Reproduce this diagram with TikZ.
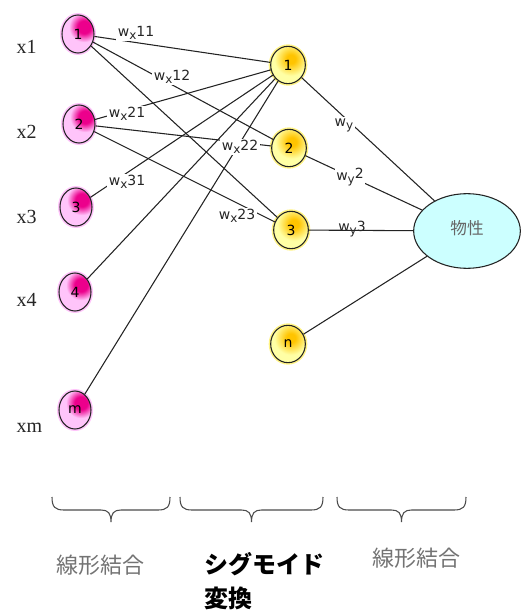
\documentclass[tikz,border=0pt]{standalone}
\usepackage{fontspec}
\setmainfont{Liberation Serif}
\newfontfamily\labelfont{DejaVu Sans}
\newfontfamily\cjk{Noto Sans CJK JP}
\usetikzlibrary{shapes.geometric}

\definecolor{pinkL}{RGB}{255,196,250}
\definecolor{pinkD}{RGB}{236,0,140}
\definecolor{yelL}{RGB}{255,255,165}
\definecolor{yelD}{RGB}{255,196,0}
\definecolor{propC}{RGB}{204,255,255}
\definecolor{lineC}{RGB}{35,35,35}

\pgfdeclareradialshading{pinkspot}{\pgfpoint{0bp}{0bp}}{color(0bp)=(pinkD); color(6bp)=(pinkD); color(14bp)=(pinkL); color(50bp)=(pinkL)}
\pgfdeclareradialshading{yelspot}{\pgfpoint{0bp}{0bp}}{color(0bp)=(yelD); color(4bp)=(yelD); color(15bp)=(yelL); color(50bp)=(yelL)}

% weight labels
\newcommand\wsub[2]{w\raisebox{-0.4ex}{\fontsize{9}{9}\selectfont #1}#2}

\begin{document}
\begin{tikzpicture}[
    x=0.75pt, y=-0.75pt,
    unit/.style={ellipse, draw=lineC, line width=0.8pt, inner sep=0pt,
                 font=\labelfont\fontsize{10.5}{10.5}\selectfont},
    pnode/.style={unit, minimum width=24pt, minimum height=28.5pt, fill=pinkL,
                  preaction={draw=pinkL, line width=3pt},
                  path picture={\shade[shading=pinkspot] ([shift={(6,-7)}]path picture bounding box.center) circle (27);}},
    ynode/.style={unit, minimum width=26pt, minimum height=28pt, fill=yelL,
                  preaction={draw=yelL!80!yelD, line width=3pt},
                  path picture={\shade[shading=yelspot] ([shift={(3,-6)}]path picture bounding box.center) circle (28);}},
    prop/.style={ellipse, draw=lineC, line width=0.8pt, fill=propC, minimum width=80pt, minimum height=56pt,
                 text=black!60, font=\cjk\fontsize{12.5}{13}\selectfont},
    conn/.style={draw=lineC, line width=0.8pt},
    wlab/.style={fill=white, inner sep=1.2pt, text=black!85, font=\labelfont\fontsize{10.5}{11}\selectfont},
    xlab/.style={anchor=west, text=black!85, font=\fontsize{15}{16}\selectfont},
    brc/.style={draw=black!70, line width=0.8pt},
    grp/.style={text=black!55, font=\cjk\fontsize{16.5}{18}\selectfont},
]
\useasboundingbox (0,0) rectangle (522,610);

% --- input units ------------------------------------------------------
\node[pnode] (p1) at (78, 34)  {1};
\node[pnode] (p2) at (79,124)  {2};
\node[pnode] (p3) at (76,207)  {3};
\node[pnode] (p4) at (75,292)  {4};
\node[pnode] (pm) at (75,410)  {m};

\node[xlab] (x1) at (12, 47)  {x1};
\node[xlab] (x2) at (12,132)  {x2};
\node[xlab] (x3) at (12,217)  {x3};
\node[xlab] (x4) at (12,300)  {x4};
\node[xlab] (xm) at (12,428)  {xm};

% --- hidden (sigmoid) units ----------------------------------------------
\node[ynode] (h1) at (288, 65)  {1};
\node[ynode] (h2) at (289,148)  {2};
\node[ynode] (h3) at (291,230)  {3};
\node[ynode] (hn) at (288,344)  {n};

% --- output --------------------------------------------------------------
\node[prop] (out) at (467,231) {\raisebox{5pt}{物性}};

% --- input -> hidden -----------------------------------------------------
\draw[conn] (p1) -- (h1);
\draw[conn] (p1) -- (h2);
\draw[conn] (p1) -- (h3);
\draw[conn] (p2) -- (h1);
\draw[conn] (p2) -- (h2);
\draw[conn] (p2) -- (h3);
\draw[conn] (p3) -- (h1);
\draw[conn] (p4) -- (h1);
\draw[conn] (pm) -- (h1);

% --- hidden -> output ----------------------------------------------------
\draw[conn] (h1) -- (out);
\draw[conn] (h2) -- (out);
\draw[conn] (h3) -- (out);
\draw[conn] (hn) -- (out);

% --- weights (white boxes cut the lines) ---------------------------------
\node[wlab] (w11) at (136, 33) {\wsub{x}{11}};
\node[wlab] (w12) at (172, 77) {\wsub{x}{12}};
\node[wlab] (w21) at (127,114) {\wsub{x}{21}};
\node[wlab] (w22) at (240,147) {\wsub{x}{22}};
\node[wlab] (w23) at (237,216) {\wsub{x}{23}};
\node[wlab] (w31) at (127,182) {\wsub{x}{31}};
\node[wlab] (wy1) at (344,125) {\wsub{y}{}};
\node[wlab] (wy2) at (350,177) {\wsub{y}{\raisebox{0.3ex}{2}}};
\node[wlab, fill=none] (wy3) at (352,229) {\wsub{y}{3}};

% --- braces --------------------------------------------------------------
\foreach \l/\r in {52/170, 180/323, 337/466} {
  \pgfmathsetmacro\m{(\l+\r)/2}
  \draw[brc] (\l,497) .. controls (\l,507) and (\l+3,510) .. (\l+12,510) -- (\m-10,510)
     .. controls (\m-3,510) and (\m,513) .. (\m,522)
     .. controls (\m,513) and (\m+3,510) .. (\m+10,510) -- (\r-12,510)
     .. controls (\r-3,510) and (\r,507) .. (\r,497);
}

% --- group labels --------------------------------------------------------
\node[grp] (g1) at (100,565) {線形結合};
\node[grp, anchor=north west, align=left, text=black, font=\cjk\bfseries\fontsize{18}{25}\selectfont]
      (g2) at (200,548) {シグモイド\\変換};
\node[grp] (g3) at (416,558) {線形結合};
\end{tikzpicture}
\end{document}
